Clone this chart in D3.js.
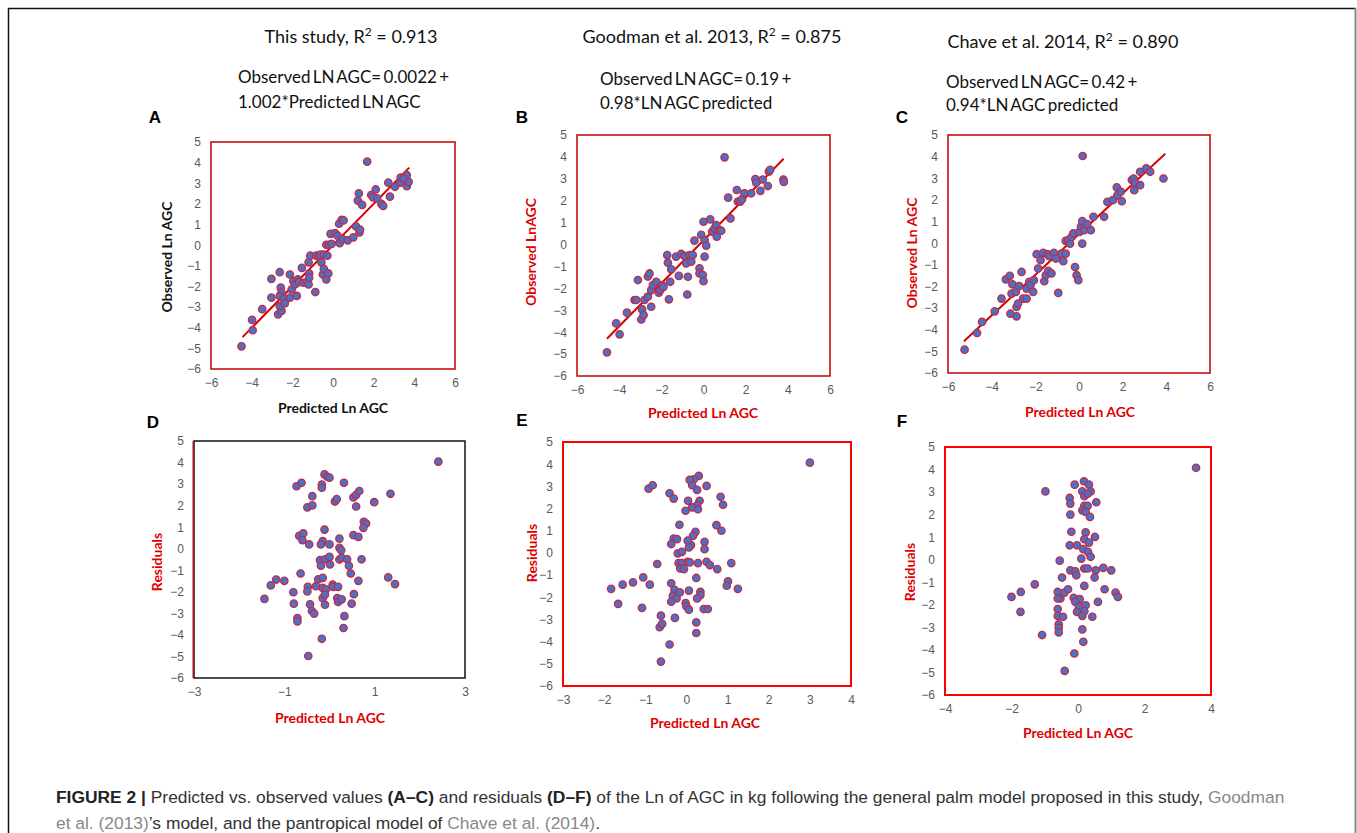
<!DOCTYPE html>
<html>
<head>
<meta charset="utf-8">
<script src="https://cdn.jsdelivr.net/npm/d3@7"></script>
<style>
  body { margin: 0; background: #fff; }
  svg text { font-family: Lato, 'Open Sans', sans-serif; }
  svg text.caption { font-family: 'Liberation Sans', Arial, sans-serif; font-size: 17.4px; }
</style>
</head>
<body>
<script>
// observed vs predicted (A-C) and residuals (D-F)

const pointsA = [[-4.5,-4.9],[-3.95,-4.12],[-3.98,-3.62],[-3.48,-3.1],[-3.03,-1.63],[-3.03,-2.54],[-2.62,-1.31],[-2.7,-3.35],[-2.53,-3.19],[-2.62,-2.95],[-2.57,-2.06],[-2.53,-2.3],[-2.62,-2.46],[-2.42,-2.59],[-2.37,-2.82],[-2.12,-2.54],[-2.03,-2.14],[-2.12,-1.42],[-1.95,-1.74],[-1.87,-1.9],[-1.73,-1.66],[-1.67,-1.79],[-1.78,-2.46],[-1.53,-1.1],[-1.45,-1.82],[-1.28,-1.79],[-1.2,-1.9],[-1.17,-1.37],[-1.2,-0.83],[-1.12,-0.51],[-1.17,-1.58],[-0.87,-2.27],[-0.83,-0.51],[-0.7,-0.54],[-0.62,-0.46],[-0.57,-0.83],[-0.5,-1.42],[-0.45,-1.15],[-0.45,-0.46],[-0.33,-1.66],[-0.28,-0.51],[-0.23,-1.37],[-0.33,0.02],[-0.2,0.02],[-0.07,0.06],[-0.12,0.55],[0.1,0.59],[0.22,0.46],[0.3,1.04],[0.43,1.23],[0.52,1.2],[0.33,0.1],[0.47,0.3],[0.72,0.23],[1.0,0.38],[1.13,0.91],[1.3,0.62],[1.33,0.75],[1.22,2.16],[1.27,2.51],[1.43,1.95],[1.68,4.05],[1.88,2.43],[1.97,2.32],[2.1,2.7],[2.17,2.27],[2.38,2.0],[2.47,1.9],[2.8,2.35],[2.72,3.03],[3.05,2.83],[3.3,3.03],[3.33,3.28],[3.63,3.39],[3.63,2.86],[3.72,3.07],[3.47,3.23]];

const pointsB = [[-4.58,-4.92],[-4.14,-3.6],[-3.98,-4.1],[-3.63,-3.11],[-3.27,-2.53],[-3.19,-2.53],[-3.11,-1.62],[-2.95,-3.42],[-2.91,-2.96],[-2.84,-3.22],[-2.8,-2.53],[-2.64,-2.38],[-2.64,-1.46],[-2.56,-1.32],[-2.48,-2.84],[-2.48,-2.08],[-2.4,-1.85],[-2.24,-1.7],[-2.12,-2.2],[-2.05,-2.08],[-1.96,-1.85],[-1.9,-1.93],[-1.72,-0.48],[-1.69,-0.83],[-1.64,-2.5],[-1.58,-1.7],[-1.53,-1.13],[-1.3,-0.55],[-1.17,-1.43],[-1.06,-0.43],[-0.9,-0.52],[-0.82,-0.86],[-0.74,-1.47],[-0.77,-2.28],[-0.66,-0.48],[-0.58,-0.78],[-0.51,-0.48],[-0.43,0.18],[-0.19,-1.09],[-0.19,-1.32],[-0.11,0.44],[-0.03,-1.39],[0.0,-1.67],[0.0,1.04],[0.05,-0.55],[0.05,0.21],[0.13,-0.05],[0.32,1.15],[0.41,0.59],[0.52,0.74],[0.6,0.89],[0.63,0.36],[0.76,0.66],[0.84,0.63],[1.17,2.14],[1.28,1.19],[1.0,3.98],[1.58,2.49],[1.63,1.96],[1.74,1.96],[1.83,2.07],[1.94,2.34],[2.26,2.34],[2.46,2.99],[2.5,2.82],[2.7,2.45],[2.81,2.97],[3.05,2.67],[3.1,3.33],[3.16,3.41],[3.79,2.97],[3.81,2.86]];

const pointsC = [[-5.24,-4.92],[-4.67,-4.15],[-4.44,-3.64],[-3.86,-3.15],[-3.55,-2.56],[-3.35,-1.67],[-3.17,-1.51],[-3.14,-3.26],[-3.05,-1.9],[-3.09,-2.33],[-2.89,-2.25],[-2.86,-2.95],[-2.79,-2.79],[-2.86,-3.38],[-2.74,-1.98],[-2.63,-1.33],[-2.56,-2.56],[-2.4,-2.56],[-2.4,-2.1],[-2.28,-1.79],[-2.22,-1.94],[-2.1,-2.25],[-2.07,-1.71],[-1.94,-0.51],[-1.87,-1.17],[-1.76,-0.79],[-1.64,-0.45],[-1.59,-1.76],[-1.52,-1.48],[-1.45,-0.51],[-1.41,-1.28],[-1.36,-0.6],[-1.26,-1.4],[-1.15,-0.45],[-1.06,-0.71],[-0.95,-2.3],[-0.8,-0.48],[-0.72,-0.83],[-0.61,-0.48],[-0.61,0.11],[-0.49,0.14],[-0.41,-0.02],[-0.34,0.29],[-0.26,0.45],[-0.18,-1.1],[-0.11,-1.48],[-0.03,-1.71],[0.02,0.52],[0.09,0.76],[0.15,1.02],[0.15,-0.02],[0.23,0.6],[0.38,0.88],[0.54,0.6],[0.66,1.22],[0.17,4.03],[1.15,1.22],[1.3,1.91],[1.55,1.99],[1.73,2.58],[1.76,2.22],[1.96,1.94],[1.91,2.38],[2.42,2.92],[2.5,2.99],[2.53,2.45],[2.57,2.79],[2.8,2.68],[2.8,3.3],[3.08,3.46],[3.26,3.3],[3.87,2.99]];

const pointsD = [[2.41,4.04],[-0.11,3.45],[-0.05,3.34],[0.0,3.3],[-0.17,2.98],[-0.17,2.83],[-0.73,2.9],[-0.62,3.06],[0.32,3.06],[-0.38,2.44],[-0.49,1.92],[-0.38,2.01],[0.12,2.19],[0.16,2.3],[0.53,2.38],[0.59,2.5],[0.66,2.68],[0.59,1.96],[0.99,2.16],[1.35,2.55],[0.76,1.25],[0.81,1.17],[0.75,0.97],[-0.11,0.89],[-0.67,0.6],[-0.58,0.71],[-0.6,0.4],[-0.45,0.2],[-0.15,0.35],[-0.19,0.2],[0.0,0.2],[0.22,0.47],[0.22,0.04],[0.26,-0.07],[0.53,0.63],[0.64,0.55],[-0.21,-0.53],[-0.1,-0.49],[0.0,-0.38],[0.01,-0.73],[-0.19,-0.79],[0.22,-0.5],[0.27,-0.42],[0.39,-0.49],[0.43,-0.79],[0.71,-0.49],[0.47,-1.15],[0.64,-1.49],[1.3,-1.33],[1.45,-1.64],[-0.64,-1.15],[-1.18,-1.43],[-1.0,-1.49],[-1.3,-1.7],[-1.44,-2.33],[-0.8,-2.02],[-0.79,-2.55],[-0.71,-3.22],[-0.71,-3.37],[-0.48,-1.77],[-0.49,-1.98],[-0.43,-2.58],[-0.39,-2.89],[-0.34,-3.01],[-0.3,-1.74],[-0.25,-1.42],[-0.15,-1.35],[-0.15,-1.82],[-0.08,-1.88],[-0.15,-2.29],[-0.1,-2.13],[-0.1,-2.6],[0.07,-1.67],[0.08,-1.77],[0.19,-1.77],[0.17,-2.29],[0.19,-2.47],[0.27,-2.35],[0.54,-2.11],[0.49,-2.55],[0.33,-3.13],[0.31,-3.68],[-0.17,-4.18],[-0.47,-4.98]];

const pointsE = [[3.0,4.07],[0.3,3.47],[0.18,3.32],[0.08,3.29],[0.14,3.05],[0.26,2.84],[0.49,3.02],[-0.92,2.9],[-0.82,3.05],[-0.41,2.69],[-0.31,2.45],[0.04,2.35],[0.32,2.35],[0.26,2.15],[0.14,2.05],[0.28,1.97],[-0.02,1.9],[0.83,2.53],[0.89,2.17],[-0.17,1.27],[0.73,1.25],[0.85,1.0],[0.22,0.95],[0.16,0.77],[0.11,0.35],[-0.31,0.65],[-0.23,0.62],[-0.37,0.4],[0.03,0.55],[0.06,0.25],[0.44,0.5],[0.44,0.17],[-0.21,-0.02],[-0.11,0.05],[-0.71,-0.5],[-0.19,-0.46],[-0.11,-0.46],[0.03,-0.4],[0.08,-0.43],[0.28,-0.46],[0.49,-0.4],[0.57,-0.55],[-0.15,-0.7],[-0.06,-0.73],[0.75,-0.73],[1.09,-0.46],[0.24,-1.13],[-1.05,-1.1],[-0.89,-1.43],[-1.3,-1.33],[-1.55,-1.43],[-1.83,-1.62],[-1.66,-2.3],[-1.08,-2.48],[-0.37,-1.37],[-0.29,-1.66],[-0.33,-1.93],[-0.24,-2.05],[-0.37,-2.2],[-0.16,-1.78],[0.06,-1.7],[0.34,-1.75],[0.34,-1.9],[0.26,-2.05],[-0.02,-2.26],[0.0,-2.41],[0.06,-2.56],[0.42,-2.53],[0.52,-2.53],[1.01,-1.28],[0.98,-1.48],[1.25,-1.62],[-0.62,-2.83],[-0.28,-2.93],[-0.65,-3.35],[-0.59,-3.2],[0.24,-3.13],[0.24,-3.61],[-0.41,-4.13],[-0.62,-4.9]];

const pointsF = [[3.55,4.08],[-0.98,3.03],[-0.1,3.33],[0.18,3.48],[0.33,3.33],[0.13,3.03],[0.38,3.03],[0.19,2.82],[0.29,2.93],[-0.25,2.74],[-0.23,2.49],[0.19,2.39],[0.29,2.39],[0.13,2.19],[0.23,2.12],[0.36,1.9],[0.55,2.55],[-0.23,2.0],[-0.2,1.24],[0.23,1.21],[0.19,0.91],[0.51,1.01],[0.33,0.76],[-0.25,0.64],[-0.03,0.64],[0.16,0.47],[0.3,0.35],[0.38,0.13],[0.1,0.05],[-0.55,-0.04],[-0.23,-0.47],[-0.08,-0.51],[-0.05,-0.69],[0.19,-0.39],[0.29,-0.39],[0.53,-0.47],[0.76,-0.36],[1.0,-0.47],[0.5,-0.79],[-0.48,-0.79],[-1.3,-1.09],[-1.72,-1.43],[-2.0,-1.65],[-1.73,-2.31],[-0.61,-1.43],[-0.53,-1.72],[-0.61,-1.72],[-0.41,-1.46],[-0.3,-1.31],[-0.13,-1.69],[0.05,-1.75],[-0.08,-1.87],[0.19,-1.16],[0.8,-1.31],[1.13,-1.46],[1.2,-1.65],[0.6,-1.87],[0.03,-2.09],[0.23,-2.02],[-0.03,-2.31],[0.19,-2.28],[0.13,-2.49],[0.43,-2.53],[-0.61,-2.19],[-0.61,-2.49],[-0.45,-2.53],[-0.58,-2.87],[-0.58,-3.02],[-0.58,-3.22],[0.13,-3.09],[0.16,-3.64],[-1.08,-3.34],[-0.11,-4.16],[-0.4,-4.93]];

// fitted lines of A-C (intercept, slope, x extent)
const fitIntercept = [0.0022, 0.19, 0.42];
const fitSlope = [1.002, 0.98, 0.94];
const fitRange = [[-4.45, 3.75], [-4.58, 3.8], [-5.27, 3.95]];

const xTicksTop = [-6, -4, -2, 0, 2, 4, 6];
const xTicksD = [-3, -1, 1, 3];
const xTicksE = [-3, -2, -1, 0, 1, 2, 3, 4];
const xTicksF = [-4, -2, 0, 2, 4];
const yTicks = [5, 4, 3, 2, 1, 0, -1, -2, -3, -4, -5, -6];

const RED = '#e00000';

const svg = d3.select('body').append('svg')
  .attr('width', 1357)
  .attr('height', 833);

// outer frame
svg.append('line').attr('x1', 8).attr('x2', 1356).attr('y1', 8.5).attr('y2', 8.5)
  .attr('stroke', '#111').attr('stroke-width', 1.5);
svg.append('line').attr('x1', 8.5).attr('x2', 8.5).attr('y1', 8).attr('y2', 833)
  .attr('stroke', '#111').attr('stroke-width', 1.5);
svg.append('line').attr('x1', 1355.5).attr('x2', 1355.5).attr('y1', 8).attr('y2', 833)
  .attr('stroke', '#888').attr('stroke-width', 2);

const panels = [
  { key: 'A', pts: pointsA, fit: 0, x0: 211, x1: 455, y0: 142, y1: 369, xd: [-6, 6], xt: xTicksTop,
    frame: '#c00000', fw: 1.5, titleCol: '#111', xTitle: [333, 413], yTitle: [167, 257], yText: 'Observed Ln AGC', letter: [155, 123] },
  { key: 'B', pts: pointsB, fit: 1, x0: 577, x1: 830, y0: 135, y1: 376, xd: [-6, 6], xt: xTicksTop,
    frame: '#c00000', fw: 1.5, titleCol: RED, xTitle: [703, 418], yTitle: [531, 252], yText: 'Observed LnAGC', letter: [522, 123] },
  { key: 'C', pts: pointsC, fit: 2, x0: 948, x1: 1210, y0: 135, y1: 373, xd: [-6, 6], xt: xTicksTop,
    frame: '#c00000', fw: 1.5, titleCol: RED, xTitle: [1080, 417], yTitle: [912, 253], yText: 'Observed Ln AGC', letter: [902, 123] },
  { key: 'D', pts: pointsD, fit: -1, x0: 194, x1: 465, y0: 441, y1: 678, xd: [-3, 3], xt: xTicksD,
    frame: '#111', fw: 1.5, titleCol: RED, xTitle: [330, 723], yTitle: [157, 562], yText: 'Residuals', letter: [153, 428] },
  { key: 'E', pts: pointsE, fit: -1, x0: 563, x1: 851, y0: 442, y1: 686, xd: [-3, 4], xt: xTicksE,
    frame: '#ff0000', fw: 2, titleCol: RED, xTitle: [705, 728], yTitle: [532, 553], yText: 'Residuals', letter: [522, 426] },
  { key: 'F', pts: pointsF, fit: -1, x0: 945, x1: 1211, y0: 447, y1: 695, xd: [-4, 4], xt: xTicksF,
    frame: '#ff0000', fw: 2, titleCol: RED, xTitle: [1078, 738], yTitle: [910, 572], yText: 'Residuals', letter: [902, 427] }
];

panels.forEach((p) => {
  const x = d3.scaleLinear().domain(p.xd).range([p.x0, p.x1]);
  const y = d3.scaleLinear().domain([-6, 5]).range([p.y1, p.y0]);
  const g = svg.append('g');

  // axes: labels only, the frame is drawn as a box
  const ax = g.append('g').attr('transform', `translate(0,${p.y1 + 6})`)
    .call(d3.axisBottom(x).tickValues(p.xt).tickSize(0).tickFormat(d3.format('d')));
  const ay = g.append('g').attr('transform', `translate(${p.x0 - 7},0)`)
    .call(d3.axisLeft(y).tickValues(yTicks).tickSize(0).tickFormat(d3.format('d')));
  [ax, ay].forEach((a) => {
    a.select('.domain').remove();
    a.selectAll('text')
      .attr('fill', '#595959')
      .style('font-family', 'Arial, "Liberation Sans", sans-serif')
      .style('font-size', '12px');
  });

  g.append('rect')
    .attr('x', p.x0).attr('y', p.y0)
    .attr('width', p.x1 - p.x0).attr('height', p.y1 - p.y0)
    .attr('fill', 'none')
    .attr('stroke', p.frame)
    .attr('stroke-width', p.fw);
  if (p.key === 'D') {
    g.append('line').attr('x1', p.x0 - 1).attr('x2', p.x0 - 1).attr('y1', p.y0).attr('y2', p.y1)
      .attr('stroke', RED).attr('stroke-width', 1);
  }

  if (p.fit >= 0) {
    const r = fitRange[p.fit];
    const line = d3.line().x((d) => x(d)).y((d) => y(fitIntercept[p.fit] + fitSlope[p.fit] * d));
    g.append('path')
      .attr('d', line(r))
      .attr('fill', 'none')
      .attr('stroke', '#d40000')
      .attr('stroke-width', 2);
  }

  g.selectAll('circle')
    .data(p.pts)
    .enter()
    .append('circle')
    .attr('cx', (d) => x(d[0]))
    .attr('cy', (d) => y(d[1]))
    .attr('r', 3.7)
    .attr('fill', '#4a72c4')
    .attr('stroke', '#c42a48')
    .attr('stroke-width', 1.3);

  g.append('text')
    .attr('x', p.xTitle[0]).attr('y', p.xTitle[1])
    .attr('text-anchor', 'middle')
    .attr('fill', p.titleCol)
    .style('font-weight', 'bold')
    .style('font-size', '14px')
    .text('Predicted Ln AGC');

  g.append('text')
    .attr('transform', `translate(${p.yTitle[0] + 5},${p.yTitle[1]}) rotate(-90)`)
    .attr('text-anchor', 'middle')
    .attr('fill', p.titleCol)
    .style('font-weight', 'bold')
    .style('font-size', '14px')
    .text(p.yText);

  g.append('text')
    .attr('x', p.letter[0]).attr('y', p.letter[1])
    .attr('text-anchor', 'middle')
    .style('font-family', 'Arial, "Liberation Sans", sans-serif')
    .style('font-weight', 'bold')
    .style('font-size', '17px')
    .text(p.key);
});

// headings above A-C
const headings = [
  { x: 351, y: 43, pre: 'This study, R', post: ' = 0.913' },
  { x: 712, y: 43, pre: 'Goodman et al. 2013, R', post: ' = 0.875' },
  { x: 1063, y: 48, pre: 'Chave et al. 2014, R', post: ' = 0.890' }
];
headings.forEach((h) => {
  const t = svg.append('text')
    .attr('x', h.x).attr('y', h.y)
    .attr('text-anchor', 'middle')
    .style('font-size', '18px')
    .attr('fill', '#111');
  t.append('tspan').text(h.pre);
  t.append('tspan').attr('dy', -7).style('font-size', '12px').text('2');
  t.append('tspan').attr('dy', 7).text(h.post);
});

const equations = [
  { x: 238, y: [83, 108], lines: ['Observed LN AGC= 0.0022 +', '1.002*Predicted LN AGC'] },
  { x: 600, y: [85, 109], lines: ['Observed LN AGC= 0.19 +', '0.98*LN AGC predicted'] },
  { x: 946, y: [88, 111], lines: ['Observed LN AGC= 0.42 +', '0.94*LN AGC predicted'] }
];
equations.forEach((e) => {
  e.lines.forEach((l, i) => {
    svg.append('text')
      .attr('x', e.x).attr('y', e.y[i])
      .style('font-size', '17px')
      .style('word-spacing', '-2px')
      .attr('fill', '#111')
      .text(l);
  });
});

// caption
const line1 = svg.append('text').attr('class', 'caption').attr('x', 56).attr('y', 803).attr('fill', '#333');
line1.append('tspan').style('font-weight', 'bold').attr('fill', '#222').text('FIGURE 2 | ');
line1.append('tspan').text('Predicted vs. observed values ');
line1.append('tspan').style('font-weight', 'bold').attr('fill', '#222').text('(A–C)');
line1.append('tspan').text(' and residuals ');
line1.append('tspan').style('font-weight', 'bold').attr('fill', '#222').text('(D–F)');
line1.append('tspan').text(' of the Ln of AGC in kg following the general palm model proposed in this study, ');
line1.append('tspan').attr('fill', '#888').text('Goodman');
const line2 = svg.append('text').attr('class', 'caption').attr('x', 56).attr('y', 829).attr('fill', '#333');
line2.append('tspan').attr('fill', '#888').text('et al. (2013)');
line2.append('tspan').text('’s model, and the pantropical model of ');
line2.append('tspan').attr('fill', '#888').text('Chave et al. (2014)');
line2.append('tspan').text('.');
</script>
</body>
</html>
